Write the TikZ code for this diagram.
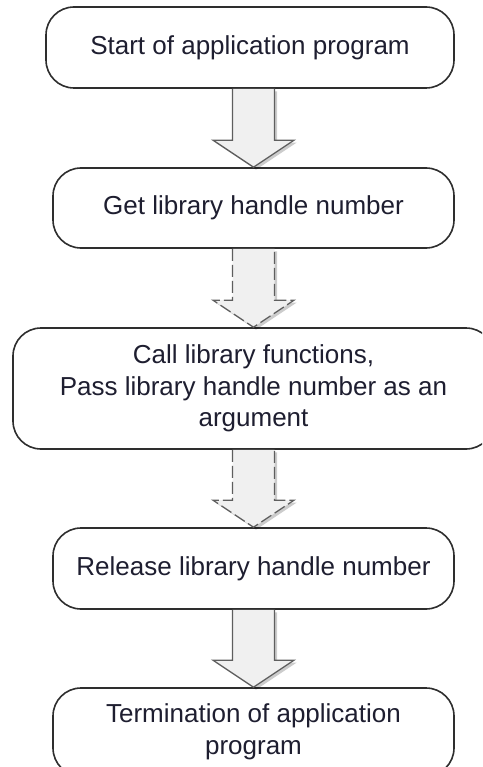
\documentclass[tikz,border=0pt]{standalone}
\usepackage{fontspec}
\setmainfont{Liberation Sans}
\usetikzlibrary{calc,shadows}
\definecolor{boxline}{HTML}{2E2E2E}
\definecolor{arrline}{HTML}{5E5E5E}
\definecolor{arrfill}{HTML}{F0F0F0}
\definecolor{txt}{HTML}{1E1E30}
\tikzset{
 stepbox/.style={draw=boxline, line width=1.6pt, rounded corners=28pt, fill=white, inner sep=0pt, align=center, text=txt, font=\fontsize{26}{31.5}\selectfont},
 blockarr/.style={draw=arrline, line width=1.3pt, fill=arrfill, line join=miter, drop shadow={shadow xshift=2.5pt, shadow yshift=-2.5pt, opacity=0.2, fill=black}},
 dasharr/.style={blockarr, dash pattern=on 12pt off 4pt},
}
\newcommand{\blockarrow}[3]{%
 \path[#3] ($(#1.south -| #2.north)+(-21,0)$) -- ($(#2.north)+(-21,-27)$) -- ($(#2.north)+(-40.5,-27)$) -- (#2.north) -- ($(#2.north)+(40.5,-27)$) -- ($(#2.north)+(21,-27)$) -- ($(#1.south -| #2.north)+(21,0)$);
}
\begin{document}
\begin{tikzpicture}[x=1pt,y=-1pt]
\useasboundingbox (0,0) rectangle (482,767);
\clip (0,0) rectangle (482,767);
\node[stepbox, minimum width=408pt, minimum height=81pt] (s1) at (250,47.5) {Start of application program};
\node[stepbox, minimum width=401pt, minimum height=80pt] (s2) at (253.5,208) {Get library handle number};
\node[stepbox, minimum width=481pt, minimum height=121pt] (s3) at (253.5,388.5) {Call library functions,\\Pass library handle number as an\\argument};
\node[stepbox, minimum width=401pt, minimum height=81pt] (s4) at (253.5,568.5) {Release library handle number};
\node[stepbox, minimum width=401pt, minimum height=88pt] (s5) at (253.5,732) {Termination of application\\program};
\blockarrow{s1}{s2}{blockarr}
\blockarrow{s2}{s3}{dasharr}
\blockarrow{s3}{s4}{dasharr}
\blockarrow{s4}{s5}{blockarr}
\end{tikzpicture}
\end{document}
